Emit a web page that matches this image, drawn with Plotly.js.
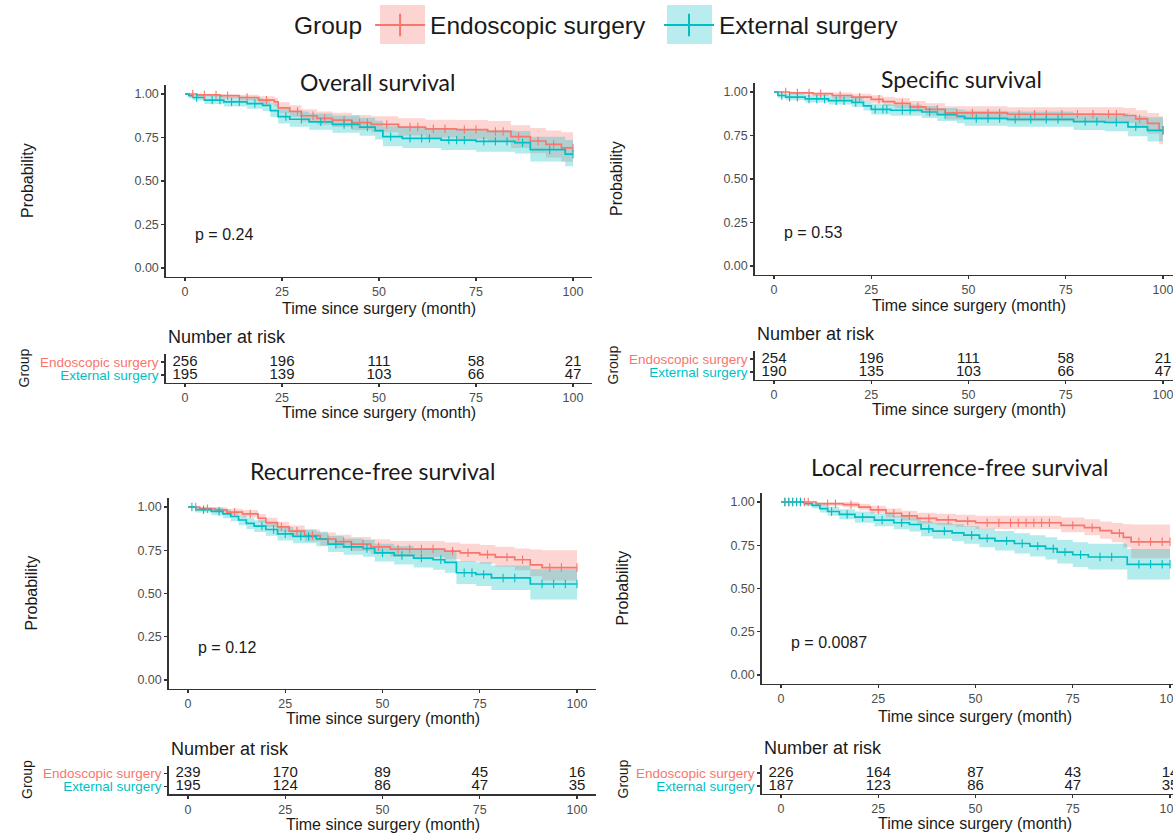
<!DOCTYPE html>
<html><head><meta charset="utf-8">
<script src="https://cdn.plot.ly/plotly-3.0.1.min.js"></script>
<style>html,body{margin:0;padding:0;background:#fff}#chart{width:1173px;height:833px}</style>
</head><body><div id="chart"></div>
<script>
// ---------------- DATA ----------------
const groups = ['Endoscopic surgery', 'External surgery'];
const panelTitles = ['Overall survival', 'Specific survival', 'Recurrence-free survival', 'Local recurrence-free survival'];
const pValues = ['p = 0.24', 'p = 0.53', 'p = 0.12', 'p = 0.0087'];
const xTicks = [0, 25, 50, 75, 100];
const yTicks = [0, 0.25, 0.5, 0.75, 1];
const yTickLabels = ['0.00', '0.25', '0.50', '0.75', '1.00'];
const riskTimes = [0, 25, 50, 75, 100];
const followUpEnd = 100;

// Overall survival
const os_endo_t  = [0, 3, 9, 14, 19, 23, 24, 27, 30, 34, 38, 43, 48, 55, 62, 70, 78, 84, 89, 93, 97];
const os_endo_s  = [1.0, 0.995, 0.99, 0.98, 0.965, 0.955, 0.92, 0.90, 0.875, 0.86, 0.85, 0.835, 0.825, 0.81, 0.80, 0.795, 0.785, 0.755, 0.73, 0.71, 0.69];
const os_endo_lo = [1.0, 0.985, 0.975, 0.962, 0.943, 0.93, 0.89, 0.868, 0.84, 0.823, 0.81, 0.793, 0.78, 0.762, 0.75, 0.742, 0.728, 0.69, 0.66, 0.635, 0.61];
const os_endo_hi = [1.0, 1.0, 1.0, 0.995, 0.987, 0.98, 0.952, 0.935, 0.912, 0.9, 0.892, 0.88, 0.872, 0.86, 0.852, 0.85, 0.845, 0.82, 0.805, 0.79, 0.78];
const os_endo_cens = [2, 5, 8, 11, 16, 21, 29, 33, 36, 41, 45, 47, 52, 58, 60, 64, 67, 72, 75, 80, 82, 86, 91, 95, 100];
const os_ext_t  = [0, 1, 2, 5, 10, 16, 20, 22, 24, 27, 32, 38, 45, 49, 51, 56, 66, 75, 85, 89, 98];
const os_ext_s  = [1.0, 0.99, 0.98, 0.965, 0.955, 0.945, 0.935, 0.905, 0.87, 0.855, 0.84, 0.825, 0.81, 0.79, 0.755, 0.745, 0.735, 0.728, 0.72, 0.68, 0.655];
const os_ext_lo = [1.0, 0.976, 0.962, 0.942, 0.928, 0.915, 0.903, 0.868, 0.83, 0.812, 0.795, 0.778, 0.76, 0.738, 0.70, 0.69, 0.678, 0.668, 0.658, 0.612, 0.585];
const os_ext_hi = [1.0, 1.0, 0.998, 0.99, 0.984, 0.977, 0.97, 0.945, 0.915, 0.90, 0.888, 0.876, 0.864, 0.846, 0.815, 0.805, 0.797, 0.792, 0.788, 0.755, 0.735];
const os_ext_cens = [3, 7, 9, 12, 14, 18, 26, 30, 35, 41, 43, 47, 53, 58, 61, 63, 68, 70, 72, 77, 80, 83, 87, 94, 100];

// Specific survival
const ss_endo_t  = [0, 4, 10, 15, 20, 25, 28, 31, 35, 39, 44, 60, 90, 93, 96, 99];
const ss_endo_s  = [1.0, 0.995, 0.99, 0.98, 0.97, 0.958, 0.945, 0.935, 0.915, 0.90, 0.88, 0.872, 0.865, 0.845, 0.82, 0.78];
const ss_endo_lo = [1.0, 0.985, 0.977, 0.963, 0.95, 0.935, 0.92, 0.906, 0.883, 0.865, 0.842, 0.832, 0.822, 0.795, 0.76, 0.70];
const ss_endo_hi = [1.0, 1.0, 1.0, 0.997, 0.99, 0.982, 0.972, 0.965, 0.948, 0.935, 0.918, 0.912, 0.908, 0.895, 0.88, 0.86];
const ss_endo_cens = [3, 6, 9, 12, 17, 22, 27, 33, 37, 42, 47, 51, 55, 58, 63, 67, 70, 74, 78, 82, 86, 88, 94, 100];
const ss_ext_t  = [0, 1, 3, 8, 14, 20, 23, 25, 30, 38, 42, 47, 49, 60, 77, 85, 91, 96];
const ss_ext_s  = [1.0, 0.98, 0.97, 0.96, 0.95, 0.94, 0.92, 0.90, 0.895, 0.885, 0.87, 0.86, 0.848, 0.843, 0.83, 0.825, 0.80, 0.78];
const ss_ext_lo = [1.0, 0.965, 0.952, 0.94, 0.928, 0.915, 0.893, 0.87, 0.863, 0.85, 0.833, 0.82, 0.806, 0.80, 0.782, 0.775, 0.745, 0.715];
const ss_ext_hi = [1.0, 0.995, 0.99, 0.983, 0.975, 0.968, 0.95, 0.932, 0.928, 0.92, 0.908, 0.90, 0.892, 0.888, 0.88, 0.878, 0.86, 0.855];
const ss_ext_cens = [2, 4, 6, 9, 11, 13, 16, 18, 21, 26, 28, 29, 33, 35, 40, 44, 52, 55, 58, 62, 66, 70, 73, 80, 83, 88, 93, 100];

// Recurrence-free survival
const rfs_endo_t  = [0, 3, 7, 10, 14, 18, 20, 23, 26, 30, 34, 38, 42, 47, 52, 66, 70, 75, 79, 84, 88, 91];
const rfs_endo_s  = [1.0, 0.99, 0.983, 0.97, 0.96, 0.935, 0.91, 0.885, 0.86, 0.835, 0.815, 0.80, 0.785, 0.77, 0.757, 0.745, 0.735, 0.725, 0.71, 0.695, 0.665, 0.65];
const rfs_endo_lo = [1.0, 0.978, 0.968, 0.952, 0.94, 0.912, 0.884, 0.856, 0.828, 0.80, 0.778, 0.762, 0.745, 0.728, 0.713, 0.698, 0.685, 0.672, 0.655, 0.635, 0.60, 0.575];
const rfs_endo_hi = [1.0, 1.0, 0.998, 0.99, 0.982, 0.96, 0.938, 0.915, 0.893, 0.87, 0.853, 0.84, 0.827, 0.814, 0.803, 0.795, 0.788, 0.78, 0.77, 0.76, 0.755, 0.75];
const rfs_endo_cens = [2, 5, 12, 16, 24, 28, 32, 36, 40, 45, 49, 54, 57, 60, 63, 68, 72, 77, 82, 86, 93, 96, 100];
const rfs_ext_t  = [0, 2, 6, 9, 11, 13, 15, 17, 20, 23, 27, 33, 36, 40, 45, 48, 53, 58, 63, 66, 69, 74, 78, 88];
const rfs_ext_s  = [1.0, 0.985, 0.975, 0.96, 0.945, 0.925, 0.905, 0.89, 0.87, 0.845, 0.83, 0.815, 0.785, 0.77, 0.76, 0.735, 0.72, 0.705, 0.695, 0.68, 0.62, 0.61, 0.59, 0.555];
const rfs_ext_lo = [1.0, 0.968, 0.953, 0.935, 0.917, 0.895, 0.873, 0.856, 0.834, 0.806, 0.79, 0.773, 0.74, 0.724, 0.712, 0.685, 0.668, 0.65, 0.638, 0.62, 0.555, 0.543, 0.52, 0.465];
const rfs_ext_hi = [1.0, 1.0, 0.995, 0.985, 0.972, 0.955, 0.937, 0.924, 0.906, 0.884, 0.87, 0.857, 0.832, 0.818, 0.81, 0.788, 0.775, 0.762, 0.754, 0.742, 0.688, 0.68, 0.662, 0.64];
const rfs_ext_cens = [1, 4, 8, 19, 22, 25, 29, 31, 38, 42, 46, 50, 55, 60, 65, 71, 73, 76, 81, 84, 91, 94, 97, 100];

// Local recurrence-free survival
const lrfs_endo_t  = [0, 9, 16, 20, 23, 27, 31, 35, 40, 45, 50, 72, 78, 82, 85, 88, 90];
const lrfs_endo_s  = [1.0, 0.99, 0.985, 0.97, 0.955, 0.935, 0.92, 0.905, 0.897, 0.89, 0.88, 0.865, 0.852, 0.835, 0.82, 0.795, 0.77];
const lrfs_endo_lo = [1.0, 0.978, 0.97, 0.952, 0.934, 0.91, 0.893, 0.875, 0.865, 0.856, 0.844, 0.825, 0.808, 0.787, 0.768, 0.737, 0.675];
const lrfs_endo_hi = [1.0, 1.0, 1.0, 0.99, 0.978, 0.962, 0.95, 0.938, 0.932, 0.927, 0.92, 0.91, 0.90, 0.888, 0.878, 0.872, 0.87];
const lrfs_endo_cens = [1, 2, 3, 4, 5, 6, 7, 12, 14, 18, 25, 29, 33, 38, 43, 48, 53, 56, 59, 61, 63, 65, 67, 69, 75, 80, 87, 92, 95, 98, 100];
const lrfs_ext_t  = [0, 6, 8, 10, 12, 15, 19, 24, 29, 33, 36, 39, 44, 47, 51, 55, 60, 64, 68, 71, 75, 79, 89];
const lrfs_ext_s  = [1.0, 0.99, 0.98, 0.962, 0.945, 0.928, 0.912, 0.895, 0.88, 0.87, 0.845, 0.832, 0.822, 0.808, 0.79, 0.775, 0.76, 0.745, 0.73, 0.71, 0.695, 0.682, 0.64];
const lrfs_ext_lo = [1.0, 0.978, 0.963, 0.94, 0.92, 0.90, 0.88, 0.86, 0.842, 0.83, 0.802, 0.787, 0.775, 0.758, 0.738, 0.72, 0.702, 0.685, 0.668, 0.645, 0.625, 0.61, 0.552];
const lrfs_ext_hi = [1.0, 1.0, 0.997, 0.985, 0.972, 0.958, 0.945, 0.932, 0.92, 0.912, 0.89, 0.88, 0.872, 0.86, 0.845, 0.832, 0.82, 0.808, 0.796, 0.78, 0.768, 0.758, 0.728];
const lrfs_ext_cens = [1, 2, 3, 4, 5, 13, 17, 21, 26, 31, 38, 42, 49, 53, 58, 62, 66, 70, 73, 77, 82, 85, 92, 95, 98, 100];

// Number at risk tables
const os_risk_endo   = [256, 196, 111, 58, 21];
const os_risk_ext    = [195, 139, 103, 66, 47];
const ss_risk_endo   = [254, 196, 111, 58, 21];
const ss_risk_ext    = [190, 135, 103, 66, 47];
const rfs_risk_endo  = [239, 170, 89, 45, 16];
const rfs_risk_ext   = [195, 124, 86, 47, 35];
const lrfs_risk_endo = [226, 164, 87, 43, 14];
const lrfs_risk_ext  = [187, 123, 86, 47, 35];

// ---------------- STYLE / GEOMETRY ----------------
const W = 1173, H = 833;
const COL = ['#F8766D', '#00BFC4'];
const FILL = ['rgba(248,118,109,0.30)', 'rgba(0,191,196,0.30)'];
const SANS = 'Liberation Sans, Arial, sans-serif';
const TITLEFONT = 'Lato, Open Sans, sans-serif';

const geo = [
  {x0: 185, ppu: 3.88, y1: 94,  y0: 268, r1: 375,   title: [377, 82],  ylab: 28,  xlab: 307, nar: 337, tlab: 411, glab: 23},
  {x0: 774, ppu: 3.89, y1: 92,  y0: 266, r1: 372,   title: [961, 79],  ylab: 616, xlab: 305, nar: 334, tlab: 408, glab: 613},
  {x0: 188, ppu: 3.89, y1: 507, y0: 680, r1: 786.5, title: [372, 471], ylab: 31,  xlab: 717, nar: 749, tlab: 823, glab: 27},
  {x0: 781, ppu: 3.89, y1: 502, y0: 675, r1: 786,   title: [959, 467], ylab: 622, xlab: 715, nar: 748, tlab: 822, glab: 622}
];

const panels = [
  {curves: [
    {t: os_endo_t, s: os_endo_s, lo: os_endo_lo, hi: os_endo_hi, c: os_endo_cens},
    {t: os_ext_t, s: os_ext_s, lo: os_ext_lo, hi: os_ext_hi, c: os_ext_cens}],
   risk: [os_risk_endo, os_risk_ext]},
  {curves: [
    {t: ss_endo_t, s: ss_endo_s, lo: ss_endo_lo, hi: ss_endo_hi, c: ss_endo_cens},
    {t: ss_ext_t, s: ss_ext_s, lo: ss_ext_lo, hi: ss_ext_hi, c: ss_ext_cens}],
   risk: [ss_risk_endo, ss_risk_ext]},
  {curves: [
    {t: rfs_endo_t, s: rfs_endo_s, lo: rfs_endo_lo, hi: rfs_endo_hi, c: rfs_endo_cens},
    {t: rfs_ext_t, s: rfs_ext_s, lo: rfs_ext_lo, hi: rfs_ext_hi, c: rfs_ext_cens}],
   risk: [rfs_risk_endo, rfs_risk_ext]},
  {curves: [
    {t: lrfs_endo_t, s: lrfs_endo_s, lo: lrfs_endo_lo, hi: lrfs_endo_hi, c: lrfs_endo_cens},
    {t: lrfs_ext_t, s: lrfs_ext_s, lo: lrfs_ext_lo, hi: lrfs_ext_hi, c: lrfs_ext_cens}],
   risk: [lrfs_risk_endo, lrfs_risk_ext]}
];

function stepValue(t, s, x) {
  let v = s[0];
  for (let i = 0; i < t.length; i++) { if (t[i] <= x) v = s[i]; else break; }
  return v;
}
// extend a step series to the end of follow-up
function extX(t) { return t.concat([followUpEnd]); }
function extY(arr) { return arr.concat([arr[arr.length - 1]]); }

const axBase = {
  showgrid: false, zeroline: false, showline: true, linecolor: '#333333', linewidth: 1.3,
  ticks: 'outside', ticklen: 3, tickwidth: 1.1, tickcolor: '#333333', ticklabeloverflow: 'allow',
  tickfont: {family: SANS, size: 12.5, color: '#4d4d4d'}, fixedrange: true
};

const traces = [];
const LEGFONT = {family: SANS, size: 24.5, color: '#1a1a1a'};
const layout = {
  width: W, height: H, margin: {l: 0, r: 0, t: 0, b: 0},
  paper_bgcolor: '#ffffff', plot_bgcolor: 'rgba(0,0,0,0)',
  showlegend: true,
  legend: {
    orientation: 'h', x: 292 / W, xanchor: 'left', y: 1 - 25 / H, yanchor: 'middle',
    font: LEGFONT, title: {text: 'Group', side: 'left', font: LEGFONT},
    itemwidth: 50, bgcolor: 'rgba(0,0,0,0)'
  },
  legend2: {
    orientation: 'h', x: 659 / W, xanchor: 'left', y: 1 - 25 / H, yanchor: 'middle',
    font: LEGFONT, itemwidth: 50, bgcolor: 'rgba(0,0,0,0)'
  },
  annotations: [], shapes: []
};

geo.forEach((g, i) => {
  const n = i + 1, nt = i + 5;
  const xs = n === 1 ? '' : String(n);
  const xmin = -5, xmax = Math.min(105, (W - g.x0) / g.ppu);
  const left = g.x0 + xmin * g.ppu, right = g.x0 + xmax * g.ppu;
  const span = g.y0 - g.y1, top = g.y1 - 0.05 * span, bot = g.y0 + 0.05 * span;
  const u = 13, tTop = g.r1 - 1.6 * u, tBot = g.r1 + 0.6 * u;

  layout['xaxis' + xs] = Object.assign({}, axBase, {domain: [left / W, Math.min(1, right / W)], range: [xmin, xmax], tickvals: xTicks, anchor: 'y' + xs});
  layout['yaxis' + xs] = Object.assign({}, axBase, {domain: [1 - bot / H, 1 - top / H], range: [-0.05, 1.05], tickvals: yTicks, ticktext: yTickLabels, anchor: 'x' + xs});
  layout['xaxis' + nt] = Object.assign({}, axBase, {domain: [left / W, Math.min(1, right / W)], range: [xmin, xmax], tickvals: xTicks, anchor: 'y' + nt});
  layout['yaxis' + nt] = Object.assign({}, axBase, {domain: [1 - tBot / H, 1 - tTop / H], range: [0.4, 2.6], tickvals: [1, 2],
    tickfont: {family: SANS, size: 13.5, color: '#4d4d4d'},
    ticktext: ['<span style="color:' + COL[1] + '">' + groups[1] + '</span>', '<span style="color:' + COL[0] + '">' + groups[0] + '</span>'],
    anchor: 'x' + nt});

  const P = panels[i];
  // confidence bands
  P.curves.forEach((cv, k) => {
    traces.push({x: extX(cv.t), y: extY(cv.lo), mode: 'lines', line: {width: 0, shape: 'hv', color: COL[k]},
      xaxis: 'x' + xs, yaxis: 'y' + xs, showlegend: false, hoverinfo: 'skip'});
    traces.push({x: extX(cv.t), y: extY(cv.hi), mode: 'lines', line: {width: 0, shape: 'hv', color: COL[k]},
      fill: 'tonexty', fillcolor: FILL[k], xaxis: 'x' + xs, yaxis: 'y' + xs, showlegend: false, hoverinfo: 'skip'});
  });
  // survival step lines
  P.curves.forEach((cv, k) => {
    traces.push({x: extX(cv.t), y: extY(cv.s), mode: 'lines', line: {width: 1.7, shape: 'hv', color: COL[k]},
      xaxis: 'x' + xs, yaxis: 'y' + xs, showlegend: false, name: groups[k]});
  });
  // censor marks
  P.curves.forEach((cv, k) => {
    traces.push({x: cv.c, y: cv.c.map(x => stepValue(cv.t, cv.s, x)), mode: 'markers',
      marker: {symbol: 'line-ns-open', size: 6, color: COL[k], line: {color: COL[k], width: 1.1}},
      xaxis: 'x' + xs, yaxis: 'y' + xs, showlegend: false, hoverinfo: 'skip'});
  });
  // number-at-risk table
  P.risk.forEach((vals, k) => {
    traces.push({x: riskTimes, y: riskTimes.map(() => k === 0 ? 2 : 1), text: vals.map(String), mode: 'text',
      textposition: 'middle center', textfont: {family: SANS, size: 15, color: '#1a1a1a'}, cliponaxis: false,
      xaxis: 'x' + nt, yaxis: 'y' + nt, showlegend: false, hoverinfo: 'skip'});
  });

  const A = layout.annotations;
  A.push({text: panelTitles[i], x: g.title[0] / W, y: 1 - g.title[1] / H, xref: 'paper', yref: 'paper', xanchor: 'center', yanchor: 'middle', showarrow: false,
    font: {family: TITLEFONT, size: 23, color: '#1a1a1a'}});
  A.push({text: 'Probability', x: g.ylab / W, y: 1 - (top + bot) / 2 / H, xref: 'paper', yref: 'paper', xanchor: 'center', yanchor: 'middle', textangle: -90, showarrow: false,
    font: {family: SANS, size: 16, color: '#1a1a1a'}});
  A.push({text: 'Time since surgery (month)', x: 50, y: 1 - (g.xlab + 1) / H, xref: 'x' + xs, yref: 'paper', xanchor: 'center', yanchor: 'middle', showarrow: false,
    font: {family: SANS, size: 16, color: '#1a1a1a'}});
  A.push({text: pValues[i], x: 2, y: 0.19, xref: 'x' + xs, yref: 'y' + xs, xanchor: 'left', yanchor: 'middle', showarrow: false,
    font: {family: SANS, size: 16, color: '#1a1a1a'}});
  A.push({text: 'Number at risk', x: left / W, y: 1 - g.nar / H, xref: 'paper', yref: 'paper', xanchor: 'left', yanchor: 'middle', showarrow: false,
    font: {family: SANS, size: 18, color: '#1a1a1a'}});
  A.push({text: 'Time since surgery (month)', x: 50, y: 1 - (g.tlab + 1) / H, xref: 'x' + nt, yref: 'paper', xanchor: 'center', yanchor: 'middle', showarrow: false,
    font: {family: SANS, size: 16, color: '#1a1a1a'}});
  A.push({text: 'Group', x: g.glab / W, y: 1 - (tTop + tBot) / 2 / H, xref: 'paper', yref: 'paper', xanchor: 'center', yanchor: 'middle', textangle: -90, showarrow: false,
    font: {family: SANS, size: 14, color: '#1a1a1a'}});
});

// legend entries (legend keys only, no data of their own)
groups.forEach((gname, k) => {
  traces.push({x: [null], y: [null], mode: 'lines+markers', name: gname, showlegend: true, legend: k === 0 ? 'legend' : 'legend2',
    line: {color: COL[k], width: 2}, marker: {symbol: 'line-ns-open', size: 16, color: COL[k], line: {color: COL[k], width: 2}},
    xaxis: 'x', yaxis: 'y', hoverinfo: 'skip'});
});

// light key boxes behind legend symbols
[[380, 425], [667, 712]].forEach((b, k) => {
  layout.shapes.push({type: 'rect', xref: 'paper', yref: 'paper', x0: b[0] / W, x1: b[1] / W, y0: 1 - 44 / H, y1: 1 - 5 / H,
    fillcolor: k === 0 ? '#fcd5d2' : '#b9ecee', line: {width: 0}, layer: 'below'});
});

Plotly.newPlot('chart', traces, layout, {staticPlot: true, displayModeBar: false});
</script>
</body></html>
